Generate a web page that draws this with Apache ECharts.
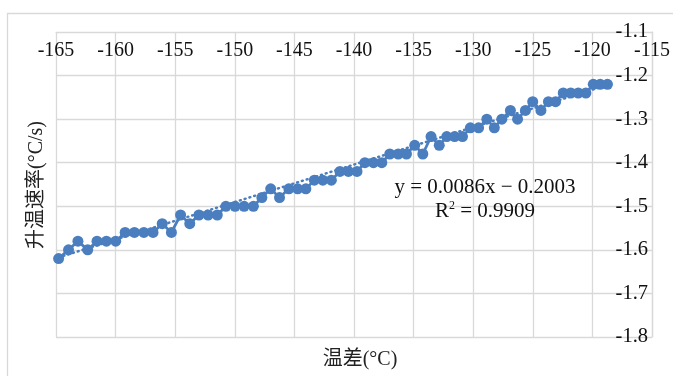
<!DOCTYPE html>
<html>
<head>
<meta charset="utf-8">
<script src="https://cdn.jsdelivr.net/npm/echarts@6/dist/echarts.min.js"></script>
<style>
  html, body { margin: 0; padding: 0; background: #fff; }
  #chart { width: 673px; height: 376px; }
</style>
</head>
<body>
<div id="chart"></div>
<script>
// Temperature difference (°C) for each measurement
const tempDiff = [
  -164.78, -163.95, -163.16, -162.34, -161.56, -160.77, -159.99, -159.20, -158.42, -157.63,
  -156.86, -156.09, -155.32, -154.55, -153.78, -153.01, -152.24, -151.47, -150.75, -149.98,
  -149.22, -148.44, -147.73, -146.99, -146.25, -145.47, -144.73, -144.04, -143.33, -142.62,
  -141.90, -141.18, -140.47, -139.75, -139.09, -138.37, -137.67, -137.00, -136.29, -135.60,
  -134.91, -134.23, -133.54, -132.85, -132.22, -131.56, -130.90, -130.24, -129.55, -128.86,
  -128.23, -127.60, -126.88, -126.28, -125.62, -125.01, -124.32, -123.69, -123.09, -122.45,
  -121.82, -121.19, -120.55, -119.93, -119.35, -118.74
];

// Heating rate (°C/s) for each measurement
const heatRate = [
  -1.62, -1.60, -1.58, -1.60, -1.58, -1.58, -1.58, -1.56, -1.56, -1.56,
  -1.56, -1.54, -1.56, -1.52, -1.54, -1.52, -1.52, -1.52, -1.50, -1.50,
  -1.50, -1.50, -1.48, -1.46, -1.48, -1.46, -1.46, -1.46, -1.44, -1.44,
  -1.44, -1.42, -1.42, -1.42, -1.40, -1.40, -1.40, -1.38, -1.38, -1.38,
  -1.36, -1.38, -1.34, -1.36, -1.34, -1.34, -1.34, -1.32, -1.32, -1.30,
  -1.32, -1.30, -1.28, -1.30, -1.28, -1.26, -1.28, -1.26, -1.26, -1.24,
  -1.24, -1.24, -1.24, -1.22, -1.22, -1.22
];

// Linear fit y = slope * x + intercept and its coefficient of determination
const fitSlope = [0.0086];
const fitIntercept = [-0.2003];
const fitR2 = ['0.9909'];

// Axis ranges and ticks
const xTicks = [-165, -160, -155, -150, -145, -140, -135, -130, -125, -120, -115];
const yTicks = [-1.8, -1.7, -1.6, -1.5, -1.4, -1.3, -1.2, -1.1];

const blue = '#4A7EBF';
const gridGray = '#d9d9d9';
const serif = '"Liberation Serif", "Times New Roman", "Noto Sans CJK SC", serif';

const points = tempDiff.map((x, i) => [x, heatRate[i]]);
const xFirst = tempDiff[0];
const xLast = tempDiff[tempDiff.length - 1];
const fitLine = [
  [xFirst, fitSlope[0] * xFirst + fitIntercept[0]],
  [xLast, fitSlope[0] * xLast + fitIntercept[0]]
];

const chart = echarts.init(document.getElementById('chart'), null, { renderer: 'canvas' });

chart.setOption({
  animation: false,
  backgroundColor: '#fff',
  grid: { left: 56, right: 10, top: 32, bottom: 39, containLabel: false },
  xAxis: {
    type: 'value',
    position: 'top',
    min: xTicks[0],
    max: xTicks[xTicks.length - 1],
    interval: 5,
    axisLine: { show: true, lineStyle: { color: gridGray, width: 1 } },
    axisTick: { show: false },
    axisLabel: {
      inside: true,
      margin: 9,
      fontFamily: serif,
      fontSize: 20,
      color: '#111',
      formatter: v => String(Math.round(v))
    },
    splitLine: { show: true, lineStyle: { color: gridGray, width: 1.3 } }
  },
  yAxis: {
    type: 'value',
    position: 'right',
    min: yTicks[0],
    max: yTicks[yTicks.length - 1],
    interval: 0.1,
    axisLine: { show: true, lineStyle: { color: gridGray, width: 1.3 } },
    axisTick: { show: false },
    axisLabel: {
      inside: true,
      margin: 4,
      fontFamily: serif,
      fontSize: 20.5,
      color: '#111',
      formatter: v => v.toFixed(1)
    },
    splitLine: { show: true, lineStyle: { color: gridGray, width: 1.3 } }
  },
  graphic: [
    {
      type: 'rect',
      silent: true,
      z: -1,
      shape: { x: 7.5, y: 13.5, width: 700, height: 400 },
      style: { fill: 'none', stroke: gridGray, lineWidth: 1.3 }
    },
    {
      type: 'text',
      x: 360, y: 360,
      style: {
        text: '温差(°C)',
        font: '20px ' + serif,
        fill: '#222',
        textAlign: 'center',
        textVerticalAlign: 'middle'
      }
    },
    {
      type: 'text',
      x: 37, y: 185,
      rotation: Math.PI / 2,
      style: {
        text: '升温速率(°C/s)',
        font: '20px ' + serif,
        fill: '#222',
        textAlign: 'center',
        textVerticalAlign: 'middle'
      }
    },
    {
      type: 'text',
      x: 485, y: 187,
      z: 10,
      style: {
        text: 'y = ' + fitSlope[0] + 'x − ' + Math.abs(fitIntercept[0]).toFixed(4),
        font: '21px ' + serif,
        fill: '#111',
        textAlign: 'center',
        textVerticalAlign: 'middle'
      }
    },
    {
      type: 'text',
      x: 485, y: 211,
      z: 10,
      style: {
        rich: {
          t: { fontSize: 21, fontFamily: serif, fill: '#111' },
          s: { fontSize: 12, fontFamily: serif, fill: '#111', padding: [0, 0, 10, 0] }
        },
        text: '{t|R}{s|2}{t| = ' + fitR2[0] + '}',
        textAlign: 'center',
        textVerticalAlign: 'middle'
      }
    }
  ],
  series: [
    {
      name: 'fit',
      type: 'line',
      data: fitLine,
      symbol: 'none',
      z: 1,
      lineStyle: { color: blue, width: 2.5, type: [1, 4], cap: 'round' }
    },
    {
      name: 'rate',
      type: 'line',
      data: points,
      symbol: 'circle',
      symbolSize: 11,
      z: 2,
      itemStyle: { color: blue },
      lineStyle: { color: blue, width: 2.75 }
    }
  ]
});
</script>
</body>
</html>
